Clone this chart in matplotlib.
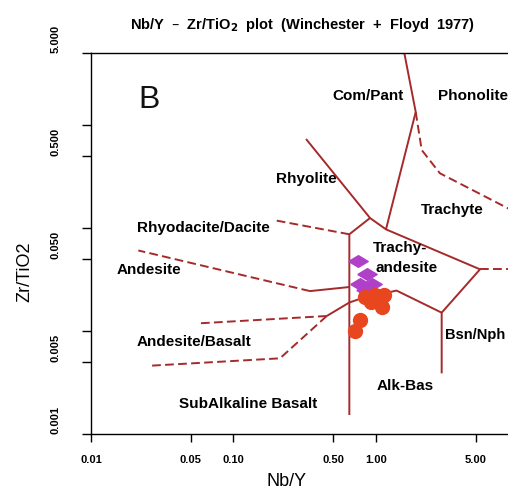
import matplotlib
matplotlib.use("Agg")
import matplotlib.pyplot as plt
from matplotlib.ticker import FixedLocator, FixedFormatter, NullLocator

plt.rcParams['font.family'] = ['Liberation Sans', 'DejaVu Sans']

# ---------------- data ----------------
# field boundaries (Nb/Y, Zr/TiO2)
solid_compant_x = [1.58, 1.90, 1.175]
solid_compant_y = [5.0, 1.337, 0.097]
solid_rhyolite_x = [0.323, 0.908, 1.175, 5.37]
solid_rhyolite_y = [0.731, 0.125, 0.097, 0.0397]
solid_subalk_x = [0.908, 0.650, 0.650]
solid_subalk_y = [0.125, 0.0869, 0.00153]
solid_bsn_x = [5.37, 2.89, 2.89]
solid_bsn_y = [0.0397, 0.01506, 0.00388]
solid_alkbas_x = [0.650, 0.748, 1.393, 2.89]
solid_alkbas_y = [0.0189, 0.0202, 0.0247, 0.01506]
solid_andesite_x = [0.344, 0.650]
solid_andesite_y = [0.0244, 0.02673]
solid_andbas_x = [0.451, 0.650]
solid_andbas_y = [0.01398, 0.0189]

dash_phono_x = [1.90, 2.093, 2.81, 8.44, 12.0]
dash_phono_y = [1.337, 0.5715, 0.3397, 0.1552, 0.125]
dash_trach_x = [5.37, 12.0]
dash_trach_y = [0.0397, 0.0397]
dash_rhyodac_x = [0.650, 0.1902]
dash_rhyodac_y = [0.0869, 0.1196]
dash_andesite_x = [0.344, 0.02148]
dash_andesite_y = [0.0244, 0.0605]
dash_andbas_up_x = [0.451, 0.0582]
dash_andbas_up_y = [0.01398, 0.01188]
dash_andbas_lo_x = [0.451, 0.212, 0.02594]
dash_andbas_lo_y = [0.01398, 0.00543, 0.0046]

# samples
diam_x = [0.742, 0.858, 0.772, 0.930, 0.850]
diam_y = [0.0473, 0.0358, 0.0289, 0.0286, 0.0250]
circ_x = [0.837, 0.984, 1.138, 0.922, 1.067, 1.093, 0.772, 0.718]
circ_y = [0.0214, 0.0224, 0.0226, 0.0191, 0.0196, 0.0171, 0.0129, 0.0101]

# field labels
field_names = ["Com/Pant", "Phonolite", "Rhyolite", "Trachyte", "Rhyodacite/Dacite",
               "Trachy-", "andesite", "Andesite", "Andesite/Basalt", "Alk-Bas",
               "SubAlkaline Basalt"]
field_x = [0.879, 4.795, 0.3228, 3.415, 0.0611, 1.474, 1.650, 0.02553, 0.0528, 1.598, 0.1264]
field_y = [1.912, 1.912, 0.299, 0.1496, 0.100, 0.0639, 0.0409, 0.0391, 0.00782, 0.00292, 0.00196]

xticks = [0.01, 0.05, 0.1, 0.5, 1, 5]
xticklabels = ["0.01", "0.05", "0.10", "0.50", "1.00", "5.00"]
yticks = [0.001, 0.005, 0.01, 0.05, 0.1, 0.5, 1, 5]
yticklabels = ["0.001", "0.005", "", "0.050", "", "0.500", "", "5.000"]

# ---------------- figure ----------------
W, H = 508, 491
fig = plt.figure(figsize=(W / 100, H / 100), dpi=100)
ax = fig.add_axes([91 / W, 1 - 434 / H, (508 - 91) / W, (434 - 53) / H])
ax.set_xscale('log')
ax.set_yscale('log')
ax.set_xlim(0.01, 8.44)
ax.set_ylim(0.001, 5.0)

lc = '#A52A2A'
lw = 1.4
for xs, ys in [(solid_compant_x, solid_compant_y), (solid_rhyolite_x, solid_rhyolite_y),
               (solid_subalk_x, solid_subalk_y), (solid_bsn_x, solid_bsn_y),
               (solid_alkbas_x, solid_alkbas_y), (solid_andesite_x, solid_andesite_y),
               (solid_andbas_x, solid_andbas_y)]:
    ax.plot(xs, ys, color=lc, lw=lw, solid_capstyle='butt', zorder=2)
for xs, ys in [(dash_phono_x, dash_phono_y), (dash_trach_x, dash_trach_y),
               (dash_rhyodac_x, dash_rhyodac_y), (dash_andesite_x, dash_andesite_y),
               (dash_andbas_up_x, dash_andbas_up_y), (dash_andbas_lo_x, dash_andbas_lo_y)]:
    ax.plot(xs, ys, color=lc, lw=lw, dashes=(4.5, 2.2), zorder=2)

diamond = [(-1, 0), (0, 0.6), (1, 0), (0, -0.6), (-1, 0)]
ax.plot(diam_x, diam_y, linestyle='none', marker=diamond, ms=14,
        color='#B040C8', mec='#B040C8', zorder=3)
ax.plot(circ_x, circ_y, linestyle='none', marker='o', ms=10,
        color='#E8461E', mec='#E8461E', zorder=4)

for name, fx, fy in zip(field_names, field_x, field_y):
    ax.text(fx, fy, name, ha='center', va='center', fontsize=11, fontweight='bold',
            color='black', zorder=5)
ax.text(3.05, 0.00915, "Bsn/Nph", ha='left', va='center', fontsize=10.5,
        fontweight='bold', color='black', zorder=5, clip_on=False)
ax.text(0.02553, 1.748, "B", ha='center', va='center', fontsize=23, color='#111111')

# axes styling
ax.spines['right'].set_visible(False)
for s in ['left', 'bottom', 'top']:
    ax.spines[s].set_linewidth(1.0)
ax.xaxis.set_major_locator(FixedLocator(xticks))
ax.xaxis.set_major_formatter(FixedFormatter(xticklabels))
ax.xaxis.set_minor_locator(NullLocator())
ax.yaxis.set_major_locator(FixedLocator(yticks))
ax.yaxis.set_major_formatter(FixedFormatter(yticklabels))
ax.yaxis.set_minor_locator(NullLocator())
ax.tick_params(axis='x', direction='out', length=5.8, width=1.0, pad=9.0,
               labelsize=8, top=False)
ax.tick_params(axis='y', direction='out', length=6.2, width=1.0, pad=15.5,
               labelsize=8, right=False, labelrotation=90)
for lab in ax.get_xticklabels():
    lab.set_fontweight('bold')
for lab in ax.get_yticklabels():
    lab.set_fontweight('bold')
    lab.set_va('bottom')

fig.text(287 / W, 1 - 482 / H, "Nb/Y", ha='center', va='center', fontsize=13)
fig.text(25 / W, 1 - 272 / H, "Zr/TiO2", ha='center', va='center', fontsize=13,
         rotation=90)
fig.text(303 / W, 1 - 25 / H, "Nb/Y  \u2013  Zr/TiO$_\\mathbf{2}$  plot  (Winchester  +  Floyd  1977)",
         ha='center', va='center', fontsize=10.5, fontweight='bold')

fig.savefig('out.png', dpi=100)
